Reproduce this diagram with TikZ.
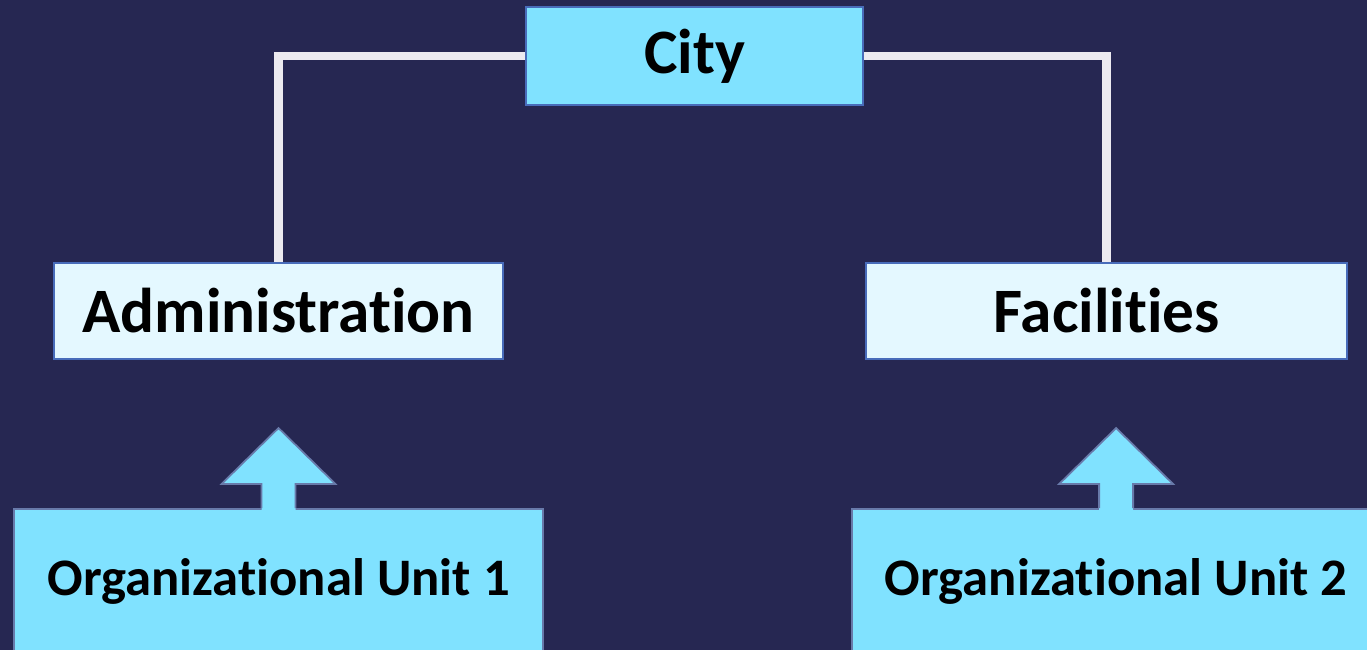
\documentclass[tikz,border=0pt]{standalone}
\usepackage{fontspec}
\setmainfont{Carlito}[Ligatures={NoCommon}]
\usetikzlibrary{positioning}
\definecolor{fondo}{RGB}{38,39,82}
\definecolor{cian}{RGB}{128,226,255}
\definecolor{cianclaro}{RGB}{228,248,255}
\definecolor{borde}{RGB}{72,108,186}
\definecolor{bordegris}{RGB}{104,122,170}
\definecolor{linea}{RGB}{236,234,240}
\tikzstyle{CityBox}=[rectangle, draw=borde, fill=cian, line width=1.2pt, minimum width=6.74cm, minimum height=1.96cm, font=\fontsize{36}{40}\selectfont\bfseries]
\tikzstyle{DeptBox}=[rectangle, draw=borde, fill=cianclaro, line width=1.2pt, minimum height=1.92cm, font=\fontsize{36}{40}\selectfont\bfseries]
\tikzstyle{UnitBox}=[rectangle, draw=bordegris, fill=cian, line width=1pt, minimum width=10.58cm, minimum height=2.92cm, font=\fontsize{30}{34}\selectfont\bfseries]
\tikzstyle{Linea}=[draw=linea, line width=5pt]
\tikzstyle{Flecha}=[draw=bordegris, line width=1pt, line join=miter]

\begin{document}
\begin{tikzpicture}
			\fill[fondo] (0,0) rectangle (27.34,13);
			\useasboundingbox (0,0) rectangle (27.34,13);

			%Nodos
			\node[CityBox]		(city)		at (13.89,11.88)			{\raisebox{-0.1cm}{City}};

			\node[DeptBox, minimum width=8.98cm]	(admin)		at (5.57,6.78)		{Administration};
			\node[DeptBox, minimum width=9.62cm]	(facilities)	[right=7.22cm of admin]	{Facilities};

			\node[UnitBox]		(unit1)		[below=2.96cm of admin]		{Organizational Unit 1};
			\node[UnitBox]		(unit2)		[below=2.96cm of facilities, xshift=0.19cm]	{Organizational Unit 2};

			%Lineas
			\draw[Linea] (city.west) -| (admin.north);
			\draw[Linea] (city.east) -| (facilities.north);

			%Flechas
			\foreach \u in {unit1, unit2} {
				\fill[cian] ([xshift=-0.34cm, yshift=-0.05cm]\u.north) -- ++(0,0.53) -- ++(-0.8,0) -- ([yshift=1.6cm]\u.north)
					-- ([xshift=1.14cm, yshift=0.48cm]\u.north) -- ++(-0.8,0) -- ([xshift=0.34cm, yshift=-0.05cm]\u.north) -- cycle;
				\draw[Flecha] ([xshift=-0.34cm]\u.north) -- ++(0,0.48) -- ++(-0.8,0) -- ([yshift=1.6cm]\u.north)
					-- ([xshift=1.14cm, yshift=0.48cm]\u.north) -- ++(-0.8,0) -- ([xshift=0.34cm]\u.north);
			}

		\end{tikzpicture}
\end{document}
